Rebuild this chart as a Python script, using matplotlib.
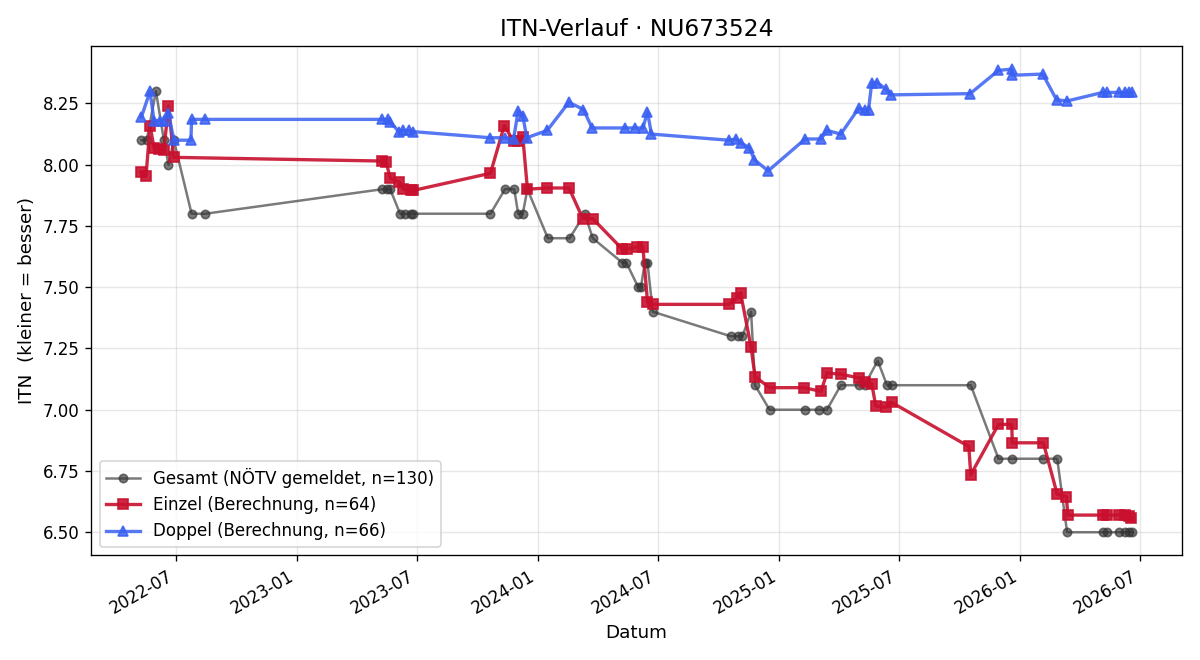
import pandas as pd
import matplotlib
matplotlib.use("Agg")
import matplotlib.pyplot as plt
import matplotlib.dates as mdates

spieler = "NU673524"

# Gesamt-ITN (NÖTV gemeldet)
gesamt_datum = [
    "2022-05-10", "2022-05-18", "2022-06-01", "2022-06-13", "2022-06-20", "2022-06-28",
    "2022-07-25", "2022-08-15",
    "2023-05-10", "2023-05-17", "2023-05-22", "2023-06-06", "2023-06-14", "2023-06-22",
    "2023-06-26", "2023-10-21", "2023-11-12", "2023-11-26", "2023-12-02", "2023-12-09",
    "2023-12-16", "2024-01-16", "2024-02-18", "2024-03-12", "2024-03-24", "2024-05-08",
    "2024-05-14", "2024-06-01", "2024-06-05", "2024-06-11", "2024-06-15", "2024-06-23",
    "2024-10-19", "2024-10-30", "2024-11-06", "2024-11-19", "2024-11-25", "2024-12-17",
    "2025-02-09", "2025-03-02", "2025-03-14", "2025-04-04", "2025-05-01", "2025-05-10",
    "2025-05-30", "2025-06-13", "2025-06-20", "2025-10-18", "2025-11-29", "2025-12-20",
    "2026-02-05", "2026-02-26", "2026-03-13", "2026-05-06", "2026-05-13", "2026-05-31",
    "2026-06-08", "2026-06-15", "2026-06-20",
]
gesamt_itn = [
    8.10, 8.10, 8.30, 8.10, 8.00, 8.10,
    7.80, 7.80,
    7.90, 7.90, 7.90, 7.80, 7.80, 7.80,
    7.80, 7.80, 7.90, 7.90, 7.80, 7.80,
    7.90, 7.70, 7.70, 7.80, 7.70, 7.60,
    7.60, 7.50, 7.50, 7.60, 7.60, 7.40,
    7.30, 7.30, 7.30, 7.40, 7.10, 7.00,
    7.00, 7.00, 7.00, 7.10, 7.10, 7.10,
    7.20, 7.10, 7.10, 7.10, 6.80, 6.80,
    6.80, 6.80, 6.50, 6.50, 6.50, 6.50,
    6.50, 6.50, 6.50,
]

# Einzel-ITN (Berechnung)
einzel_datum = [
    "2022-05-09", "2022-05-17", "2022-05-23", "2022-05-29", "2022-06-05", "2022-06-13",
    "2022-06-20", "2022-06-28",
    "2023-05-10", "2023-05-16", "2023-05-22", "2023-06-05", "2023-06-11", "2023-06-22",
    "2023-06-26", "2023-10-21", "2023-11-11", "2023-11-25", "2023-12-02", "2023-12-09",
    "2023-12-16", "2024-01-15", "2024-02-17", "2024-03-09", "2024-03-24", "2024-05-08",
    "2024-05-15", "2024-05-30", "2024-06-08", "2024-06-15", "2024-06-23",
    "2024-10-16", "2024-10-28", "2024-11-03", "2024-11-19", "2024-11-25", "2024-12-17",
    "2025-02-07", "2025-03-05", "2025-03-14", "2025-04-04", "2025-05-01", "2025-05-10",
    "2025-05-21", "2025-05-27", "2025-06-11", "2025-06-20",
    "2025-10-15", "2025-10-18", "2025-11-29", "2025-12-19", "2025-12-20", "2026-02-05",
    "2026-02-26", "2026-03-12", "2026-03-14", "2026-05-06", "2026-05-13", "2026-05-31",
    "2026-06-08", "2026-06-15", "2026-06-18",
]
einzel_itn = [
    7.97, 7.955, 8.16, 8.07, 8.065, 8.06,
    8.24, 8.03,
    8.015, 8.01, 7.945, 7.93, 7.90, 7.895,
    7.895, 7.965, 8.16, 8.095, 8.095, 8.115,
    7.90, 7.905, 7.905, 7.78, 7.78, 7.655,
    7.655, 7.665, 7.665, 7.44, 7.43,
    7.43, 7.455, 7.478, 7.255, 7.135, 7.09,
    7.09, 7.075, 7.15, 7.145, 7.13, 7.115,
    7.105, 7.015, 7.01, 7.03,
    6.85, 6.735, 6.94, 6.94, 6.865, 6.865,
    6.655, 6.645, 6.57, 6.57, 6.57, 6.57,
    6.57, 6.565, 6.56,
]

# Doppel-ITN (Berechnung)
doppel_datum = [
    "2022-05-10", "2022-05-23", "2022-05-29", "2022-06-07", "2022-06-13", "2022-06-20",
    "2022-06-28", "2022-07-24", "2022-07-25", "2022-08-15",
    "2023-05-10", "2023-05-18", "2023-05-22", "2023-06-04", "2023-06-11", "2023-06-19",
    "2023-06-26", "2023-10-21", "2023-11-12", "2023-11-25", "2023-12-02", "2023-12-09",
    "2023-12-15", "2024-01-15", "2024-02-17", "2024-03-10", "2024-03-23", "2024-05-12",
    "2024-05-27", "2024-06-08", "2024-06-15", "2024-06-21",
    "2024-10-16", "2024-10-27", "2024-11-03", "2024-11-16", "2024-11-24", "2024-12-15",
    "2025-02-09", "2025-03-05", "2025-03-14", "2025-04-04", "2025-05-01", "2025-05-10",
    "2025-05-16", "2025-05-21", "2025-05-29", "2025-06-11", "2025-06-19",
    "2025-10-17", "2025-11-29", "2025-12-19", "2025-12-20", "2026-02-04", "2026-02-25",
    "2026-03-13", "2026-05-06", "2026-05-13", "2026-05-31", "2026-06-08", "2026-06-15",
    "2026-06-20",
]
doppel_itn = [
    8.195, 8.30, 8.18, 8.18, 8.18, 8.21,
    8.10, 8.10, 8.185, 8.185,
    8.185, 8.185, 8.175, 8.135, 8.14, 8.14,
    8.135, 8.11, 8.11, 8.105, 8.22, 8.20,
    8.11, 8.14, 8.255, 8.225, 8.15, 8.15,
    8.15, 8.15, 8.215, 8.125,
    8.10, 8.105, 8.09, 8.07, 8.02, 7.975,
    8.105, 8.105, 8.14, 8.125, 8.23, 8.225,
    8.225, 8.335, 8.335, 8.31, 8.285,
    8.29, 8.385, 8.39, 8.365, 8.37, 8.265,
    8.26, 8.295, 8.295, 8.295, 8.295, 8.295,
    8.295,
]

gesamt = pd.DataFrame({"datum": pd.to_datetime(gesamt_datum), "itn": gesamt_itn})
einzel = pd.DataFrame({"datum": pd.to_datetime(einzel_datum), "itn": einzel_itn})
doppel = pd.DataFrame({"datum": pd.to_datetime(doppel_datum), "itn": doppel_itn})

fig, ax = plt.subplots(figsize=(10, 5.5), dpi=120)

ax.plot(gesamt["datum"], gesamt["itn"], marker="o", color="#333333", alpha=0.65,
        linewidth=1.5, markersize=5, label="Gesamt (NÖTV gemeldet, n=130)")
ax.plot(einzel["datum"], einzel["itn"], marker="s", color="#c8102e", alpha=0.9,
        linewidth=2, markersize=6, label="Einzel (Berechnung, n=64)")
ax.plot(doppel["datum"], doppel["itn"], marker="^", color="#3a60f2", alpha=0.85,
        linewidth=2, markersize=6, label="Doppel (Berechnung, n=66)")

ax.set_title(f"ITN-Verlauf · {spieler}", fontsize=14)
ax.set_xlabel("Datum", fontsize=11)
ax.set_ylabel("ITN  (kleiner = besser)", fontsize=11)
ax.grid(True, alpha=0.3)

ax.xaxis.set_major_locator(mdates.MonthLocator(bymonth=[1, 7]))
ax.xaxis.set_major_formatter(mdates.DateFormatter("%Y-%m"))
fig.autofmt_xdate()

ax.legend(loc="lower left")
fig.tight_layout()
fig.savefig("out.png")
